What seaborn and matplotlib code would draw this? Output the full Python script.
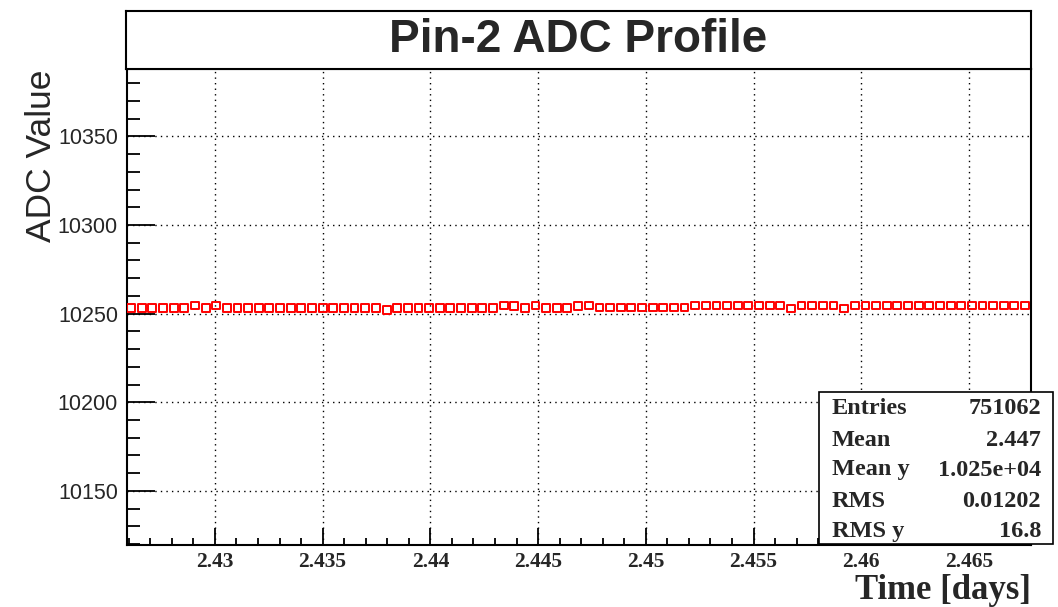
import matplotlib
matplotlib.use("Agg")
import matplotlib.pyplot as plt
from matplotlib.ticker import MultipleLocator
from matplotlib.patches import Rectangle
import seaborn as sns
import pandas as pd

# ---------------- data ----------------
time_days = [
    2.42611, 2.42660, 2.42710, 2.42759, 2.42809, 2.42858, 2.42907, 2.42957, 2.43006, 2.43056,
    2.43105, 2.43154, 2.43204, 2.43253, 2.43303, 2.43352, 2.43401, 2.43451, 2.43500, 2.43550,
    2.43599, 2.43648, 2.43698, 2.43747, 2.43797, 2.43846, 2.43895, 2.43945, 2.43994, 2.44044,
    2.44093, 2.44142, 2.44192, 2.44241, 2.44291, 2.44340, 2.44389, 2.44439, 2.44488, 2.44538,
    2.44587, 2.44636, 2.44686, 2.44735, 2.44785, 2.44834, 2.44883, 2.44933, 2.44982, 2.45032,
    2.45081, 2.45130, 2.45180, 2.45229, 2.45279, 2.45328, 2.45377, 2.45427, 2.45476, 2.45526,
    2.45575, 2.45624, 2.45674, 2.45723, 2.45773, 2.45822, 2.45871, 2.45921, 2.45970, 2.46020,
    2.46069, 2.46118, 2.46168, 2.46217, 2.46267, 2.46316, 2.46365, 2.46415, 2.46464, 2.46514,
    2.46563, 2.46612, 2.46662, 2.46711, 2.46761,
]
adc_value = [
    10253.2, 10253.2, 10253.2, 10253.2, 10253.2, 10253.2, 10254.6, 10253.2, 10254.6, 10253.2,
    10253.2, 10253.2, 10253.2, 10253.2, 10253.2, 10253.2, 10253.2, 10253.2, 10253.2, 10253.2,
    10253.2, 10253.2, 10253.2, 10253.2, 10252.0, 10253.2, 10253.2, 10253.2, 10253.2, 10253.2,
    10253.2, 10253.2, 10253.2, 10253.2, 10253.2, 10254.6, 10254.4, 10253.2, 10254.6, 10253.3,
    10253.3, 10253.3, 10254.4, 10254.6, 10253.5, 10253.5, 10253.5, 10253.5, 10253.5, 10253.5,
    10253.5, 10253.5, 10253.5, 10254.6, 10254.6, 10254.6, 10254.6, 10254.6, 10254.6, 10254.6,
    10254.6, 10254.6, 10252.9, 10254.6, 10254.6, 10254.6, 10254.6, 10252.9, 10254.6, 10254.6,
    10254.6, 10254.6, 10254.6, 10254.6, 10254.6, 10254.6, 10254.6, 10254.6, 10254.6, 10254.6,
    10254.6, 10254.6, 10254.6, 10254.6, 10254.6,
]

x_ticks = [2.43, 2.435, 2.44, 2.445, 2.45, 2.455, 2.46, 2.465]
x_tick_labels = ["2.43", "2.435", "2.44", "2.445", "2.45", "2.455", "2.46", "2.465"]
y_ticks = [10150, 10200, 10250, 10300, 10350]
y_tick_labels = ["10150", "10200", "10250", "10300", "10350"]

title_text = "Pin-2 ADC Profile"
x_title = "Time [days]"
y_title = "ADC Value"

stats_names = ["Entries", "Mean", "Mean y", "RMS", "RMS y"]
stats_values = ["751062", "2.447", "1.025e+04", "0.01202", "16.8"]

# ---------------- style ----------------
sns.set_theme(style="white")
plt.rcParams["font.family"] = ["Liberation Sans", "DejaVu Sans"]

W, H = 1058, 607
fig = plt.figure(figsize=(W / 100, H / 100), dpi=100)
fig.patch.set_facecolor("white")

def fx(px):
    return px / W

def fy(py):
    return 1 - py / H

ax_l, ax_r, ax_t, ax_b = 127, 1031, 69, 545
ax = fig.add_axes([fx(ax_l), fy(ax_b), fx(ax_r - ax_l), (ax_b - ax_t) / H])

df = pd.DataFrame({"time": time_days, "adc": adc_value})
sns.scatterplot(data=df, x="time", y="adc", marker="s", s=32, color="red",
                linewidth=1.4, ax=ax, zorder=3, legend=False)
for coll in ax.collections:
    coll.set_facecolor("none")
    coll.set_edgecolor("#ff0000")
    coll.set_linewidth(1.4)

ax.set_xlim(2.42592, 2.46788)
ax.set_ylim(10119.5, 10388)

ax.set_xticks(x_ticks, x_tick_labels, fontfamily="Liberation Serif",
              fontweight="bold", fontsize=15.5)
ax.set_yticks(y_ticks, y_tick_labels, fontfamily="Liberation Sans", fontsize=15.5)
ax.xaxis.set_minor_locator(MultipleLocator(0.001))
ax.yaxis.set_minor_locator(MultipleLocator(10))

ax.tick_params(axis="x", which="major", direction="in", length=12, width=1.3,
               pad=5, color="black", bottom=True, top=False)
ax.tick_params(axis="x", which="minor", direction="in", length=5, width=1.3,
               color="black", bottom=True, top=False)
ax.tick_params(axis="y", which="major", direction="in", length=20, width=1.3,
               pad=6.5, color="black", left=True, right=False)
ax.tick_params(axis="y", which="minor", direction="in", length=9.5, width=1.3,
               color="black", left=True, right=False)

ax.grid(True, which="major", color="black", linestyle=(0, (1, 3)), linewidth=1.0)
ax.set_axisbelow(True)

for sp in ax.spines.values():
    sp.set_visible(True)
    sp.set_color("black")
    sp.set_linewidth(1.5)

ax.set_xlabel(x_title, fontfamily="Liberation Serif", fontweight="bold",
              fontsize=25, loc="right")
ax.xaxis.set_label_coords(1.0, -0.061)
ax.set_ylabel(y_title, fontfamily="Liberation Sans", fontsize=25.5, loc="top")
ax.yaxis.set_label_coords(-0.076, 1.0)

# title box
tax = fig.add_axes([fx(126), fy(69), fx(1031 - 126), (69 - 11) / H])
tax.set_xticks([])
tax.set_yticks([])
for sp in tax.spines.values():
    sp.set_visible(True)
    sp.set_color("black")
    sp.set_linewidth(1.5)
tax.set_facecolor("white")
tax.text(0.5, 0.5, title_text, ha="center", va="center", fontsize=33,
         fontweight="bold", fontfamily="Liberation Sans", transform=tax.transAxes)

# stats box
bx0, bx1, by0, by1 = 819, 1053, 392, 544
fig.add_artist(Rectangle((fx(bx0), fy(by1)), fx(bx1 - bx0), (by1 - by0) / H,
                         transform=fig.transFigure, facecolor="white",
                         edgecolor="black", linewidth=1.2, zorder=5))
baselines = [414.5, 445.5, 475.5, 507, 537]
for name, val, bl in zip(stats_names, stats_values, baselines):
    fig.text(fx(832), fy(bl), name, ha="left", va="baseline", fontsize=17.5,
             fontweight="bold", fontfamily="Liberation Serif", zorder=6)
    fig.text(fx(1041), fy(bl), val, ha="right", va="baseline", fontsize=17.5,
             fontweight="bold", fontfamily="Liberation Serif", zorder=6)

fig.savefig("out.png", dpi=100, facecolor="white")
